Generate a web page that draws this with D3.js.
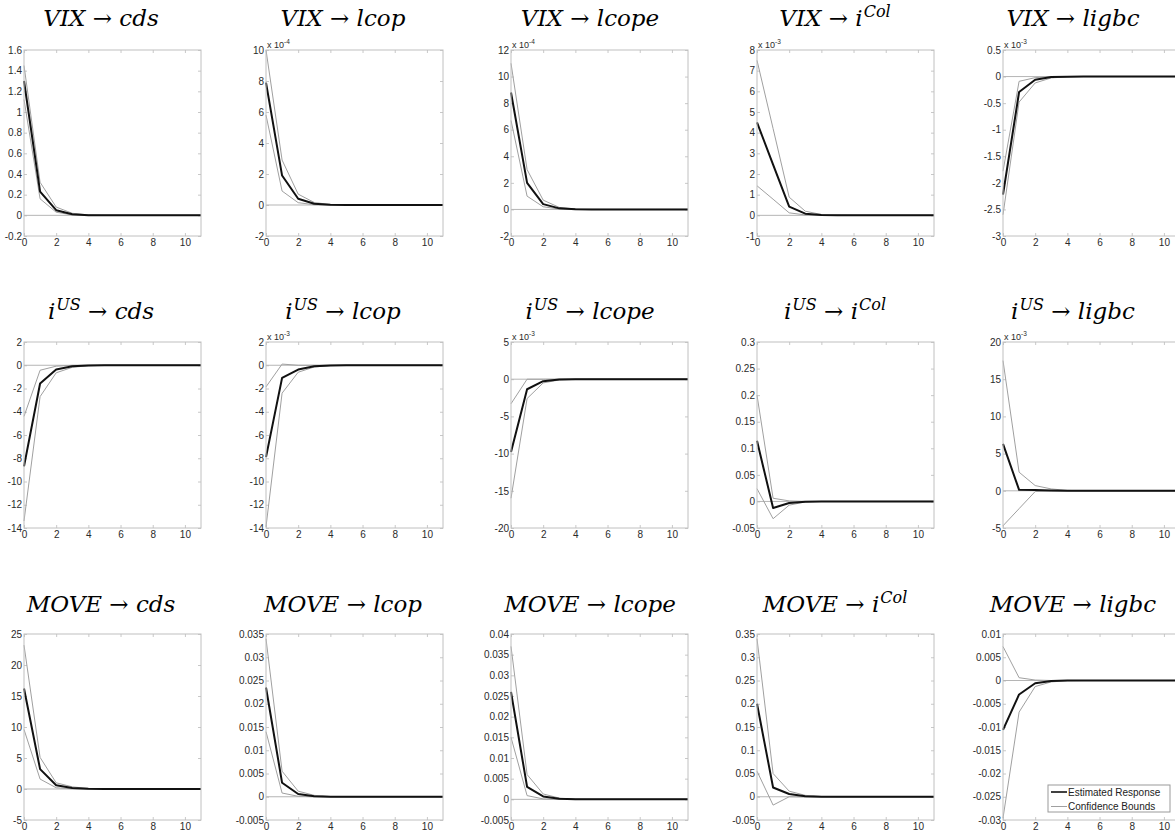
<!DOCTYPE html>
<html><head><meta charset="utf-8">
<script src="https://cdn.jsdelivr.net/npm/d3@7"></script>
<style>
body{margin:0;background:#fff}
svg text{font-family:"Liberation Sans",Arial,sans-serif}
</style>
</head><body>
<svg id="chart" width="1175" height="835"></svg>
<script>
// Impulse responses over horizons 0..11 (values in the units shown on each axis)
const horizons = d3.range(0, 12);

// Shock and response names: [base, superscript]
const shockNames = [["VIX", ""], ["i", "US"], ["MOVE", ""]];
const responseNames = [["cds", ""], ["lcop", ""], ["lcope", ""], ["i", "Col"], ["ligbc", ""]];

// y axis [min, max, step] per panel, row by row
const yAxes = [
  [-0.2, 1.6, 0.2], [-2, 10, 2], [-2, 12, 2], [-1, 8, 1], [-3, 0.5, 0.5],
  [-14, 2, 2], [-14, 2, 2], [-20, 5, 5], [-0.05, 0.3, 0.05], [-5, 20, 5],
  [-5, 25, 5], [-0.005, 0.035, 0.005], [-0.005, 0.04, 0.005], [-0.05, 0.35, 0.05], [-0.03, 0.01, 0.005]
];
// power-of-ten multiplier printed above each axis (0 = none)
const yExponents = [0, -4, -4, -3, -3, 0, -3, -3, 0, -3, 0, 0, 0, 0, 0];
const xTicks = [0, 2, 4, 6, 8, 10];

// VIX shock
const vixCdsEst   = [1.30, 0.23, 0.05, 0.010, 0.002, 0, 0, 0, 0, 0, 0, 0];
const vixCdsUp    = [1.45, 0.32, 0.08, 0.020, 0.004, 0.001, 0, 0, 0, 0, 0, 0];
const vixCdsLo    = [1.12, 0.16, 0.03, 0.004, 0.001, 0, 0, 0, 0, 0, 0, 0];
const vixLcopEst  = [7.9, 1.9, 0.4, 0.08, 0.015, 0, 0, 0, 0, 0, 0, 0];
const vixLcopUp   = [10.0, 2.9, 0.7, 0.16, 0.03, 0.005, 0, 0, 0, 0, 0, 0];
const vixLcopLo   = [5.8, 0.9, 0.15, 0.02, 0.003, 0, 0, 0, 0, 0, 0, 0];
const vixLcopeEst = [8.8, 2.0, 0.4, 0.08, 0.015, 0, 0, 0, 0, 0, 0, 0];
const vixLcopeUp  = [11.0, 3.0, 0.7, 0.15, 0.03, 0.005, 0, 0, 0, 0, 0, 0];
const vixLcopeLo  = [6.7, 1.0, 0.2, 0.03, 0.005, 0, 0, 0, 0, 0, 0, 0];
const vixIcolEst  = [4.5, 2.45, 0.42, 0.08, 0.015, 0, 0, 0, 0, 0, 0, 0];
const vixIcolUp   = [7.5, 4.2, 0.88, 0.2, 0.04, 0.008, 0, 0, 0, 0, 0, 0];
const vixIcolLo   = [1.43, 0.78, 0.12, 0.02, 0.003, 0, 0, 0, 0, 0, 0, 0];
const vixLigbcEst = [-2.22, -0.29, -0.06, -0.01, -0.002, 0, 0, 0, 0, 0, 0, 0];
const vixLigbcUp  = [-1.78, -0.09, -0.02, -0.003, 0, 0, 0, 0, 0, 0, 0, 0];
const vixLigbcLo  = [-2.6, -0.48, -0.12, -0.025, -0.005, 0, 0, 0, 0, 0, 0, 0];

// US interest rate shock
const usCdsEst    = [-8.7, -1.57, -0.37, -0.09, -0.02, -0.004, 0, 0, 0, 0, 0, 0];
const usCdsUp     = [-4.4, -0.43, -0.08, -0.01, 0, 0, 0, 0, 0, 0, 0, 0];
const usCdsLo     = [-13.4, -2.7, -0.65, -0.18, -0.04, -0.008, 0, 0, 0, 0, 0, 0];
const usLcopEst   = [-7.9, -1.09, -0.37, -0.09, -0.02, 0, 0, 0, 0, 0, 0, 0];
const usLcopUp    = [-1.86, 0.1, 0.0, 0, 0, 0, 0, 0, 0, 0, 0, 0];
const usLcopLo    = [-13.9, -2.4, -0.6, -0.15, -0.03, 0, 0, 0, 0, 0, 0, 0];
const usLcopeEst  = [-9.8, -1.35, -0.27, -0.05, -0.01, 0, 0, 0, 0, 0, 0, 0];
const usLcopeUp   = [-3.3, 0.0, 0.0, 0, 0, 0, 0, 0, 0, 0, 0, 0];
const usLcopeLo   = [-16.0, -2.6, -0.5, -0.1, -0.02, 0, 0, 0, 0, 0, 0, 0];
const usIcolEst   = [0.114, -0.0125, -0.003, -0.0005, 0, 0, 0, 0, 0, 0, 0, 0];
const usIcolUp    = [0.2, 0.006, 0.001, 0, 0, 0, 0, 0, 0, 0, 0, 0];
const usIcolLo    = [0.024, -0.0325, -0.007, -0.001, 0, 0, 0, 0, 0, 0, 0, 0];
const usLigbcEst  = [6.3, 0.13, 0.1, 0.05, 0.01, 0, 0, 0, 0, 0, 0, 0];
const usLigbcUp   = [17.5, 2.5, 0.7, 0.25, 0.05, 0.01, 0, 0, 0, 0, 0, 0];
const usLigbcLo   = [-4.7, -2.4, -0.1, -0.02, 0, 0, 0, 0, 0, 0, 0, 0];

// MOVE shock
const moveCdsEst   = [16.2, 3.2, 0.6, 0.15, 0.03, 0.005, 0, 0, 0, 0, 0, 0];
const moveCdsUp    = [23.2, 5.1, 1.0, 0.35, 0.08, 0.015, 0, 0, 0, 0, 0, 0];
const moveCdsLo    = [9.6, 1.6, 0.2, 0.03, 0.005, 0, 0, 0, 0, 0, 0, 0];
const moveLcopEst  = [0.0235, 0.003, 0.0006, 0.0001, 0, 0, 0, 0, 0, 0, 0, 0];
const moveLcopUp   = [0.034, 0.0055, 0.0012, 0.0003, 0.00005, 0, 0, 0, 0, 0, 0, 0];
const moveLcopLo   = [0.014, 0.0008, 0.0001, 0, 0, 0, 0, 0, 0, 0, 0, 0];
const moveLcopeEst = [0.026, 0.003, 0.0007, 0.00012, 0, 0, 0, 0, 0, 0, 0, 0];
const moveLcopeUp  = [0.037, 0.006, 0.0013, 0.0003, 0.00005, 0, 0, 0, 0, 0, 0, 0];
const moveLcopeLo  = [0.015, 0.0009, 0.0001, 0, 0, 0, 0, 0, 0, 0, 0, 0];
const moveIcolEst  = [0.2, 0.02, 0.006, 0.001, 0.0002, 0, 0, 0, 0, 0, 0, 0];
const moveIcolUp   = [0.34, 0.05, 0.012, 0.003, 0.0005, 0, 0, 0, 0, 0, 0, 0];
const moveIcolLo   = [0.055, -0.018, 0.0, -0.0005, 0, 0, 0, 0, 0, 0, 0, 0];
const moveLigbcEst = [-0.0106, -0.003, -0.0006, -0.0001, 0, 0, 0, 0, 0, 0, 0, 0];
const moveLigbcUp  = [0.0073, 0.0006, 0.0001, 0, 0, 0, 0, 0, 0, 0, 0, 0];
const moveLigbcLo  = [-0.0296, -0.0068, -0.0013, -0.0003, -0.00005, 0, 0, 0, 0, 0, 0, 0];

const legendLabels = ["Estimated Response", "Confidence Bounds"];

// panel table, row by row: [estimate, upper bound, lower bound]
const series = [
  [vixCdsEst, vixCdsUp, vixCdsLo], [vixLcopEst, vixLcopUp, vixLcopLo], [vixLcopeEst, vixLcopeUp, vixLcopeLo],
  [vixIcolEst, vixIcolUp, vixIcolLo], [vixLigbcEst, vixLigbcUp, vixLigbcLo],
  [usCdsEst, usCdsUp, usCdsLo], [usLcopEst, usLcopUp, usLcopLo], [usLcopeEst, usLcopeUp, usLcopeLo],
  [usIcolEst, usIcolUp, usIcolLo], [usLigbcEst, usLigbcUp, usLigbcLo],
  [moveCdsEst, moveCdsUp, moveCdsLo], [moveLcopEst, moveLcopUp, moveLcopLo], [moveLcopeEst, moveLcopeUp, moveLcopeLo],
  [moveIcolEst, moveIcolUp, moveIcolLo], [moveLigbcEst, moveLigbcUp, moveLigbcLo]
];

// layout
const colLeft = [24, 266, 511, 757, 1003];
const rowTop = [50, 342, 634];
const plotW = 177, plotH = 186;
const titleX = [101, 343, 590, 835, 1073];
const titleBase = [26, 319, 612];

const svg = d3.select("#chart");
const fmt = v => String(parseFloat(v.toFixed(6)));
const TITLE_FONT = '"DejaVu Serif","Liberation Serif",serif';
const TITLE_SIZE = 23, SUP_SIZE = 16, SUP_RISE = 9;

for (let r = 0; r < 3; r++) {
  for (let c = 0; c < 5; c++) {
    const k = r * 5 + c;
    const [yMin, yMax, yStep] = yAxes[k];
    const yTicks = d3.range(Math.round((yMax - yMin) / yStep) + 1).map(i => +(yMin + i * yStep).toFixed(6));

    // title: shock → response, with superscripts raised above the baseline
    const t = svg.append("text")
      .attr("x", titleX[c]).attr("y", titleBase[r])
      .attr("text-anchor", "middle")
      .style("font-family", TITLE_FONT).style("font-style", "italic")
      .attr("font-size", TITLE_SIZE).attr("fill", "#000");
    const shock = shockNames[r], resp = responseNames[c];
    t.append("tspan").text(shock[0]);
    let raised = false;
    if (shock[1]) {
      t.append("tspan").attr("font-size", SUP_SIZE).attr("dx", 1).attr("dy", -SUP_RISE).text(shock[1]);
      raised = true;
    }
    t.append("tspan").attr("dy", raised ? SUP_RISE : 0).style("font-style", "normal").text(" \u2192 ");
    t.append("tspan").text(resp[0]);
    if (resp[1]) t.append("tspan").attr("font-size", SUP_SIZE).attr("dx", 1).attr("dy", -SUP_RISE).text(resp[1]);

    const g = svg.append("g").attr("transform", `translate(${colLeft[c]},${rowTop[r]})`);
    const x = d3.scaleLinear().domain([0, 11]).range([0, plotW]);
    const y = d3.scaleLinear().domain([yMin, yMax]).range([plotH, 0]);

    g.append("rect").attr("width", plotW).attr("height", plotH).attr("fill", "#fff");

    // axes with inward ticks
    const ax = [
      g.append("g").attr("transform", `translate(0,${plotH})`)
        .call(d3.axisBottom(x).tickValues(xTicks).tickSize(-3).tickPadding(3).tickFormat(d3.format("d"))),
      g.append("g").call(d3.axisTop(x).tickValues(xTicks).tickSize(-3).tickFormat("")),
      g.append("g").call(d3.axisLeft(y).tickValues(yTicks).tickSize(-3).tickPadding(2).tickFormat(fmt)),
      g.append("g").attr("transform", `translate(${plotW},0)`)
        .call(d3.axisRight(y).tickValues(yTicks).tickSize(-3).tickFormat(""))
    ];
    ax.forEach(a => {
      a.select(".domain").remove();
      a.selectAll("line").attr("stroke", "#c8c8c8");
      a.selectAll("text").attr("fill", "#2a2a2a").attr("font-size", 10)
        .style("font-family", '"Liberation Sans",Arial,sans-serif');
    });

    if (yExponents[k]) {
      const e = g.append("text").attr("x", 1).attr("y", -2).attr("font-size", 9).attr("fill", "#2a2a2a");
      e.append("tspan").text("x 10");
      e.append("tspan").attr("font-size", 6.5).attr("dy", -4).text(String(yExponents[k]));
    }

    // zero line
    g.append("line").attr("x1", 0).attr("x2", plotW).attr("y1", y(0)).attr("y2", y(0))
      .attr("stroke", "#b5b5b5").attr("stroke-width", 1);

    const line = d3.line().x((d, i) => x(horizons[i])).y(d => y(d));
    const [est, up, lo] = series[k];
    [up, lo].forEach(s => g.append("path").attr("d", line(s)).attr("fill", "none")
      .attr("stroke", "#a0a0a0").attr("stroke-width", 1));
    g.append("path").attr("d", line(est)).attr("fill", "none")
      .attr("stroke", "#111").attr("stroke-width", 2).attr("stroke-linejoin", "round");

    g.append("rect").attr("width", plotW).attr("height", plotH)
      .attr("fill", "none").attr("stroke", "#c0c0c0").attr("stroke-width", 1);

    // legend in the last panel
    if (k === 14) {
      const lg = g.append("g").attr("transform", `translate(45,151)`);
      lg.append("rect").attr("width", 122).attr("height", 27).attr("fill", "#fff")
        .attr("stroke", "#9a9a9a").attr("stroke-width", 1);
      const styles = [["#111", 1.6], ["#a0a0a0", 1]];
      legendLabels.forEach((lab, i) => {
        const yy = 7 + i * 14.5;
        lg.append("line").attr("x1", 3).attr("x2", 19).attr("y1", yy).attr("y2", yy)
          .attr("stroke", styles[i][0]).attr("stroke-width", styles[i][1]);
        lg.append("text").attr("x", 20).attr("y", yy + 3.5).attr("font-size", 10)
          .attr("fill", "#222").text(lab);
      });
    }
  }
}
</script>
</body></html>
